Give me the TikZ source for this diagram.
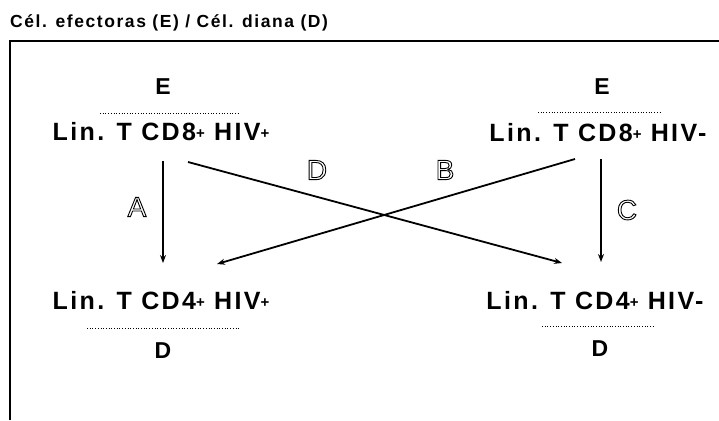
\documentclass[tikz,border=0pt]{standalone}
\usepackage{fontspec}
\setmainfont{Liberation Sans}
\newfontfamily\lblfont[LetterSpace=9.5]{Liberation Sans}
\newfontfamily\ttlfont[LetterSpace=9]{Liberation Sans}
\usetikzlibrary{arrows.meta}
\newcommand\plusmk{\raisebox{2.5pt}{\fontsize{15}{15}\selectfont +}}
\newcommand\outl[1]{\special{pdf:code 1 Tr 0.9 w}#1\special{pdf:code 0 Tr}}
\tikzset{
  lbl/.style={font=\lblfont\bfseries\fontsize{25}{28}\selectfont, inner sep=0pt},
  letter/.style={font=\lblfont\bfseries\fontsize{23}{26}\selectfont, inner sep=0pt},
  arlbl/.style={font=\lblfont\fontsize{28}{30}\selectfont, inner sep=0pt},
  arr/.style={-{Stealth[length=8pt,width=6pt]}, line width=1.8pt},
  dots/.style={dotted, line width=0.7pt},
  frame/.style={line width=1.4pt}
}
\begin{document}
\begin{tikzpicture}[x=1pt,y=-1pt]
\useasboundingbox (0,0) rectangle (719,420);
\node[anchor=west, inner sep=0pt, font=\ttlfont\bfseries\fontsize{17.5}{20}\selectfont] (title) at (10,23) {Cél. efectoras (E) / Cél. diana (D)};
\draw[frame] (10,420) -- (10,41) -- (719,41);
% top row
\node[letter] (e1) at (163,87) {E};
\node[letter] (e2) at (602,87) {E};
\draw[dots] (100,113) -- (240,113);
\draw[dots] (538,112) -- (662,112);
\node[lbl] (cd8p) at (161,132) {Lin. T CD8\plusmk\ HIV\plusmk};
\node[lbl] (cd8n) at (598,133) {Lin. T CD8\plusmk\ HIV-};
% bottom row
\node[lbl] (cd4p) at (161,301) {Lin. T CD4\plusmk\ HIV\plusmk};
\node[lbl] (cd4n) at (595,301) {Lin. T CD4\plusmk\ HIV-};
\draw[dots] (87,328) -- (240,328);
\draw[dots] (542,326) -- (655,326);
\node[letter] (d1) at (163,351) {D};
\node[letter] (d2) at (600,349) {D};
% arrow endpoints
\coordinate (a1) at (163,161); \coordinate (a2) at (163,263);
\coordinate (c1) at (601,159); \coordinate (c2) at (601,262);
\coordinate (dd1) at (188,162); \coordinate (dd2) at (562,263);
\coordinate (b1) at (575,159); \coordinate (b2) at (217,264);
\draw[arr] (a1) -- (a2);
\draw[arr] (c1) -- (c2);
\draw[arr] (dd1) -- (dd2);
\draw[arr] (b1) -- (b2);
\node[arlbl] (la) at (137,207) {\outl{A}};
\node[arlbl] (lc) at (627,210) {\outl{C}};
\node[arlbl] (ld) at (317,170) {\outl{D}};
\node[arlbl] (lb) at (445,170) {\outl{B}};
\end{tikzpicture}
\end{document}
